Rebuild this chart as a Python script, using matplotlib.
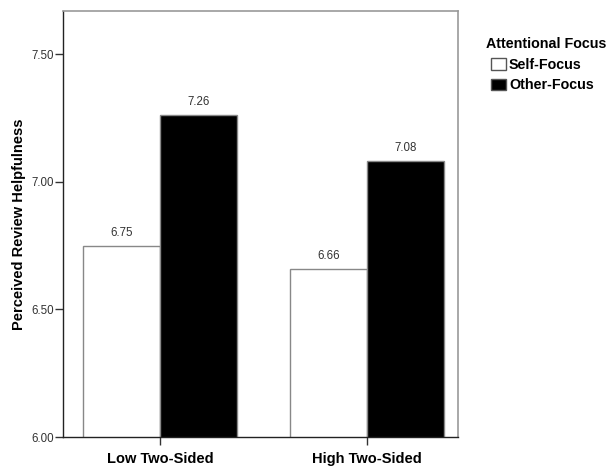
import matplotlib
matplotlib.use("Agg")
import matplotlib.pyplot as plt
from matplotlib.patches import Patch
import numpy as np

categories = ["Low Two-Sided", "High Two-Sided"]
series_names = ["Self-Focus", "Other-Focus"]
legend_title = "Attentional Focus"
self_focus = [6.75, 6.66]
other_focus = [7.26, 7.08]
yticks = [6.00, 6.50, 7.00, 7.50]

plt.rcParams['font.family'] = ['Liberation Sans', 'DejaVu Sans']

fig = plt.figure(figsize=(6.1, 4.67), dpi=100)
ax = fig.add_axes([63/610, 1-437/467, (458-63)/610, (437-11)/467])

x = np.arange(len(categories))
w = 0.372
edge = "#888888"
b1 = ax.bar(x - w/2, self_focus, w, color="white", edgecolor=edge, linewidth=1.0)
b2 = ax.bar(x + w/2, other_focus, w, color="black", edgecolor=edge, linewidth=1.0)

for bars, vals in ((b1, self_focus), (b2, other_focus)):
    for r, v in zip(bars, vals):
        ax.annotate(f"{v:.2f}", (r.get_x() + r.get_width()/2, v), xytext=(0, 5),
                    textcoords="offset points", ha="center", va="bottom",
                    fontsize=8.3, color="#333333")

ax.set_ylim(6.0, 7.669)
ax.set_xlim(-0.469, 1.44)
ax.set_yticks(yticks)
ax.set_yticklabels([f"{t:.2f}" for t in yticks], fontsize=8.3, color="#333333")
ax.set_xticks(x)
ax.set_xticklabels(categories, fontsize=10.5, fontweight="bold")
ax.tick_params(axis="both", direction="out", length=5.5, width=1, color="#333333")
ax.tick_params(axis="x", pad=5)
ax.tick_params(axis="y", pad=1)
ax.set_ylabel("Perceived Review Helpfulness", fontsize=10.5, fontweight="bold", labelpad=4)

for s in ("top", "right"):
    ax.spines[s].set_color("#999999")
    ax.spines[s].set_linewidth(1.2)
for s in ("left", "bottom"):
    ax.spines[s].set_color("#222222")
    ax.spines[s].set_linewidth(1.0)

fig.text(486/610, 1-44/467, legend_title, fontsize=10.3, fontweight="bold",
         ha="left", va="center")
handles = [Patch(facecolor="white", edgecolor="#555555", label=series_names[0]),
           Patch(facecolor="black", edgecolor="#555555", label=series_names[1])]
leg = fig.legend(handles=handles, loc="upper left",
                 bbox_to_anchor=(491/610, 1-58/467), frameon=False,
                 prop={"size": 10.3, "weight": "bold"}, handlelength=1.05, handleheight=0.85,
                 handletextpad=0.2, labelspacing=0.45, borderaxespad=0, borderpad=0)

fig.savefig("out.png", dpi=100)
